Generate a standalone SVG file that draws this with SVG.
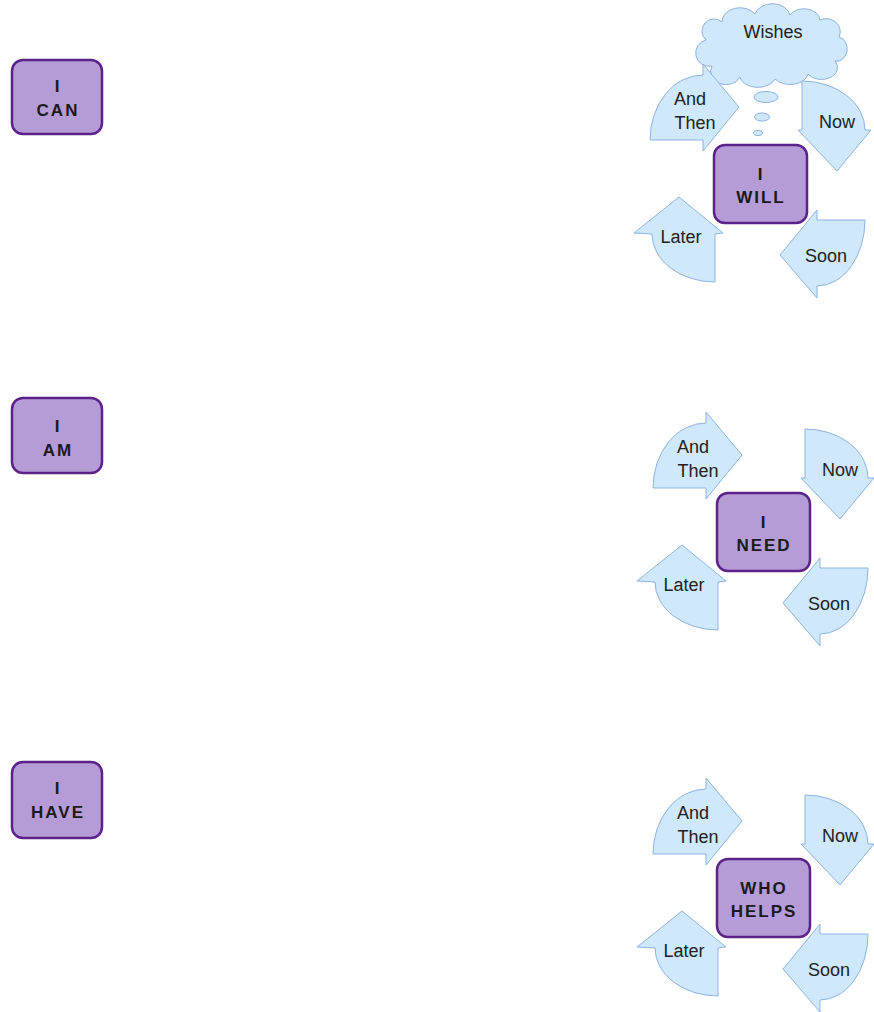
<svg xmlns="http://www.w3.org/2000/svg" width="874" height="1012" viewBox="0 0 874 1012">
  <style>
    .box { fill: #b59cd6; stroke: #5b2289; stroke-width: 2.5; }
    .lbl { font-family: "Liberation Sans", Arial, sans-serif; font-weight: bold; font-size: 17px; letter-spacing: 2px; fill: #1a1a1a; text-anchor: middle; }
    .arrow { fill: #cfe8fb; stroke: #8db3e2; stroke-width: 1; stroke-linejoin: round; }
    .txt { font-family: "Liberation Sans", Arial, sans-serif; font-size: 18px; fill: #222; text-anchor: middle; }
    .cloud { fill: #cfe8fb; stroke: #8db3e2; stroke-width: 1; }
  </style>
  <defs>
    <!-- four curved arrows circling a centre box -->
    <g id="cycle-arrows">
      <path class="arrow" d="M 706,488 L 653,488 A 53,65 0 0 1 706,423 L 706,412 L 742,455 L 706,499 Z"/>
      <path class="arrow" d="M 805,478 L 805,429 A 63,49 0 0 1 868,478 L 874,478 L 840,519 L 801,478 Z"/>
      <path class="arrow" d="M 718,582 L 718,630 A 63,48 0 0 1 655,582 L 637,581 L 682,545 L 726,581 Z"/>
      <path class="arrow" d="M 820,568 L 868,568 A 48,66 0 0 1 820,634 L 820,646 L 783,603 L 820,558 Z"/>
      <text class="txt" x="693" y="453">And</text>
      <text class="txt" x="698" y="477">Then</text>
      <text class="txt" x="840" y="476">Now</text>
      <text class="txt" x="684" y="591">Later</text>
      <text class="txt" x="829" y="610">Soon</text>
    </g>
  </defs>

  <!-- left column -->
  <g id="i-can">
    <rect class="box" x="12" y="60" width="90" height="74" rx="11"/>
    <text class="lbl" x="58" y="92">I</text>
    <text class="lbl" x="58" y="116">CAN</text>
  </g>
  <g id="i-am">
    <rect class="box" x="12" y="398" width="90" height="75" rx="11"/>
    <text class="lbl" x="58" y="432">I</text>
    <text class="lbl" x="58" y="456">AM</text>
  </g>
  <g id="i-have">
    <rect class="box" x="12" y="762" width="90" height="76" rx="11"/>
    <text class="lbl" x="58" y="794">I</text>
    <text class="lbl" x="58" y="818">HAVE</text>
  </g>

  <!-- I WILL cycle with thought cloud -->
  <g id="cycle-will">
    <g id="wishes">
      <path class="cloud" d="M 706,40 A 12,12 0 0 1 722,22 A 18,14 0 0 1 755,14 A 18,14 0 0 1 790,15 A 16,12 0 0 1 820,20 A 14,13 0 0 1 839,37 A 10,12 0 0 1 835,61 A 16,12 0 0 1 808,74 A 18,12 0 0 1 775,79 A 18,12 0 0 1 740,77 A 14,12 0 0 1 712,66 A 12,12 0 0 1 706,40 Z"/>
      <text class="txt" x="773" y="38">Wishes</text>
      <ellipse class="cloud" cx="766" cy="97" rx="12" ry="5.5"/>
      <ellipse class="cloud" cx="762" cy="117" rx="7.5" ry="4"/>
      <ellipse class="cloud" cx="758" cy="133" rx="4.5" ry="2.5"/>
    </g>
    <use href="#cycle-arrows" transform="translate(-3,-348)"/>
    <g id="i-will">
      <rect class="box" x="714" y="145" width="93" height="78" rx="11"/>
      <text class="lbl" x="761" y="180">I</text>
      <text class="lbl" x="761" y="203">WILL</text>
    </g>
  </g>

  <!-- I NEED cycle -->
  <g id="cycle-need">
    <use href="#cycle-arrows"/>
    <g id="i-need">
      <rect class="box" x="717" y="493" width="93" height="78" rx="11"/>
      <text class="lbl" x="764" y="528">I</text>
      <text class="lbl" x="764" y="551">NEED</text>
    </g>
  </g>

  <!-- WHO HELPS cycle -->
  <g id="cycle-helps">
    <use href="#cycle-arrows" transform="translate(0,366)"/>
    <g id="who-helps">
      <rect class="box" x="717" y="859" width="93" height="78" rx="11"/>
      <text class="lbl" x="764" y="894">WHO</text>
      <text class="lbl" x="764" y="917">HELPS</text>
    </g>
  </g>
</svg>
